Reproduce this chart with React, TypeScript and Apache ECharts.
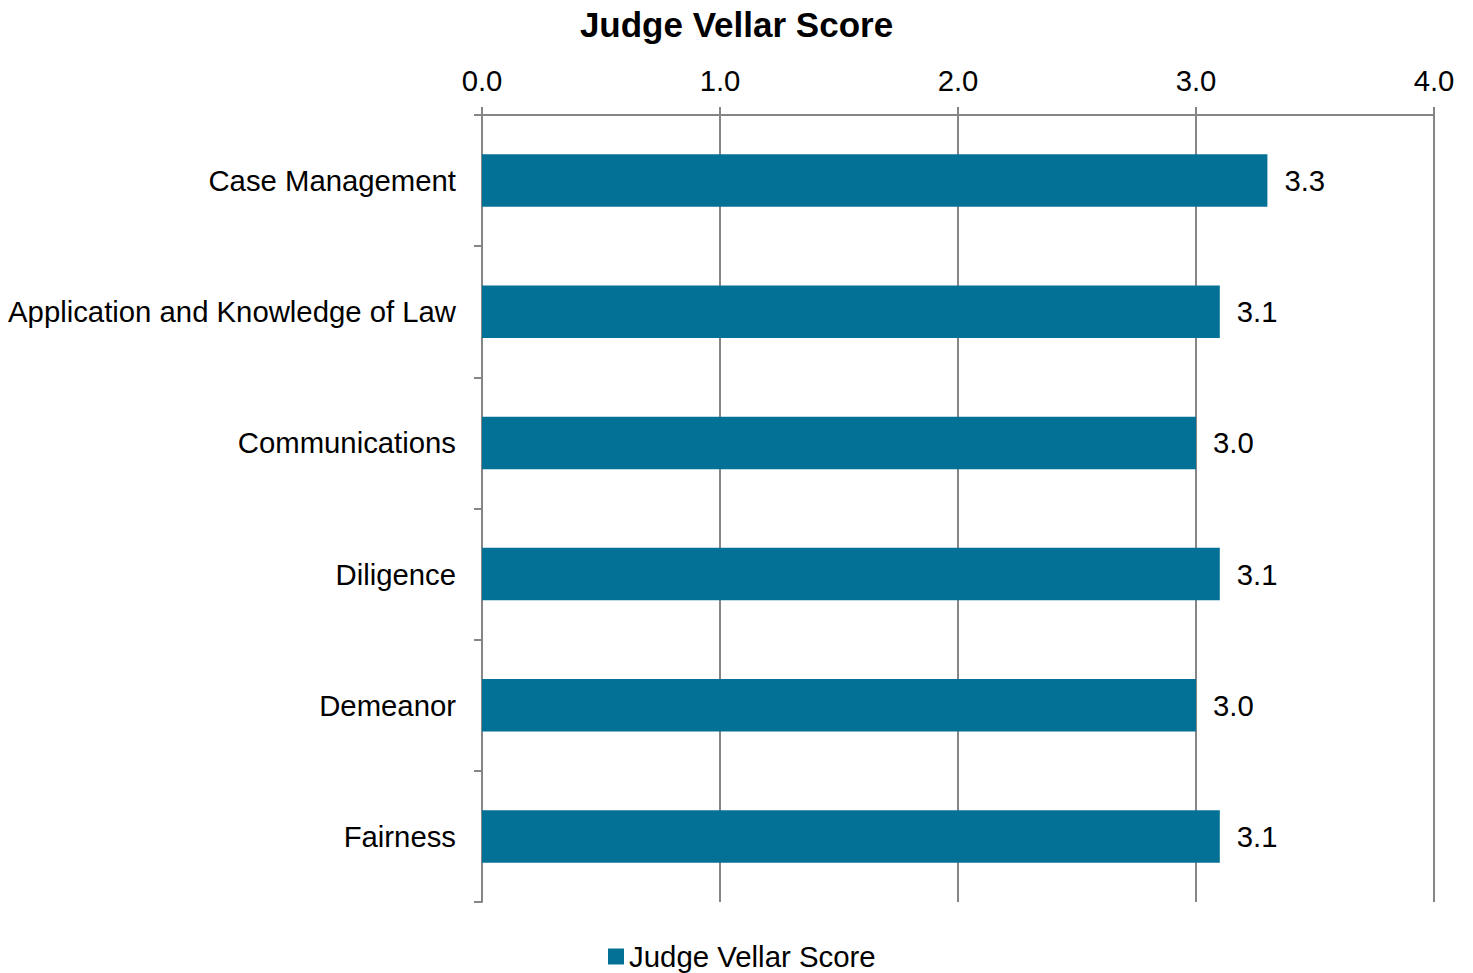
import React, { useEffect, useRef } from "react";
import * as echarts from "echarts";

const categories = [
  "Case Management",
  "Application and Knowledge of Law",
  "Communications",
  "Diligence",
  "Demeanor",
  "Fairness",
];
const scores = [3.3, 3.1, 3.0, 3.1, 3.0, 3.1];
const seriesName = "Judge Vellar Score";
const titleText = "Judge Vellar Score";

const FONT = "'Liberation Sans', Arial, sans-serif";

export default function App() {
  const ref = useRef<HTMLDivElement>(null);
  useEffect(() => {
    document.body.style.margin = "0";
    const chart = echarts.init(ref.current!, null, { renderer: "svg" });
    chart.setOption({
      animation: false,
      title: {
        text: titleText,
        left: "center",
        top: 2,
        textStyle: { fontFamily: FONT, fontSize: 35, fontWeight: "bold", color: "#000" },
      },
      legend: {
        data: [seriesName],
        top: 937,
        left: 603,
        icon: "rect",
        itemWidth: 16,
        itemHeight: 16,
        textStyle: { fontFamily: FONT, fontSize: 29.4, color: "#000" },
      },
      grid: { left: 482, right: 39, top: 115, bottom: 71, containLabel: false },
      xAxis: {
        type: "value",
        position: "top",
        min: 0,
        max: 4,
        interval: 1,
        axisLine: { show: true, lineStyle: { color: "#868686", width: 2 } },
        axisTick: { show: true, length: 8, lineStyle: { color: "#868686", width: 2 } },
        splitLine: { show: true, lineStyle: { color: "#868686", width: 2 } },
        axisLabel: {
          formatter: (v: number) => v.toFixed(1),
          fontFamily: FONT,
          fontSize: 29.3,
          color: "#000",
          margin: 20,
        },
      },
      yAxis: {
        type: "category",
        data: categories,
        inverse: true,
        axisLine: { show: true, lineStyle: { color: "#868686", width: 2 } },
        axisTick: { show: true, length: 8, lineStyle: { color: "#868686", width: 2 } },
        axisLabel: { fontFamily: FONT, fontSize: 29.3, color: "#000", margin: 26 },
      },
      series: [
        {
          name: seriesName,
          type: "bar",
          data: scores,
          barWidth: "40%",
          itemStyle: { color: "#037096" },
          label: {
            show: true,
            position: "right",
            distance: 17,
            formatter: (p: any) => Number(p.value).toFixed(1),
            fontFamily: FONT,
            fontSize: 29.3,
            color: "#000",
          },
        },
      ],
    });
    return () => chart.dispose();
  }, []);
  return <div ref={ref} style={{ width: 1473, height: 973 }} />;
}
